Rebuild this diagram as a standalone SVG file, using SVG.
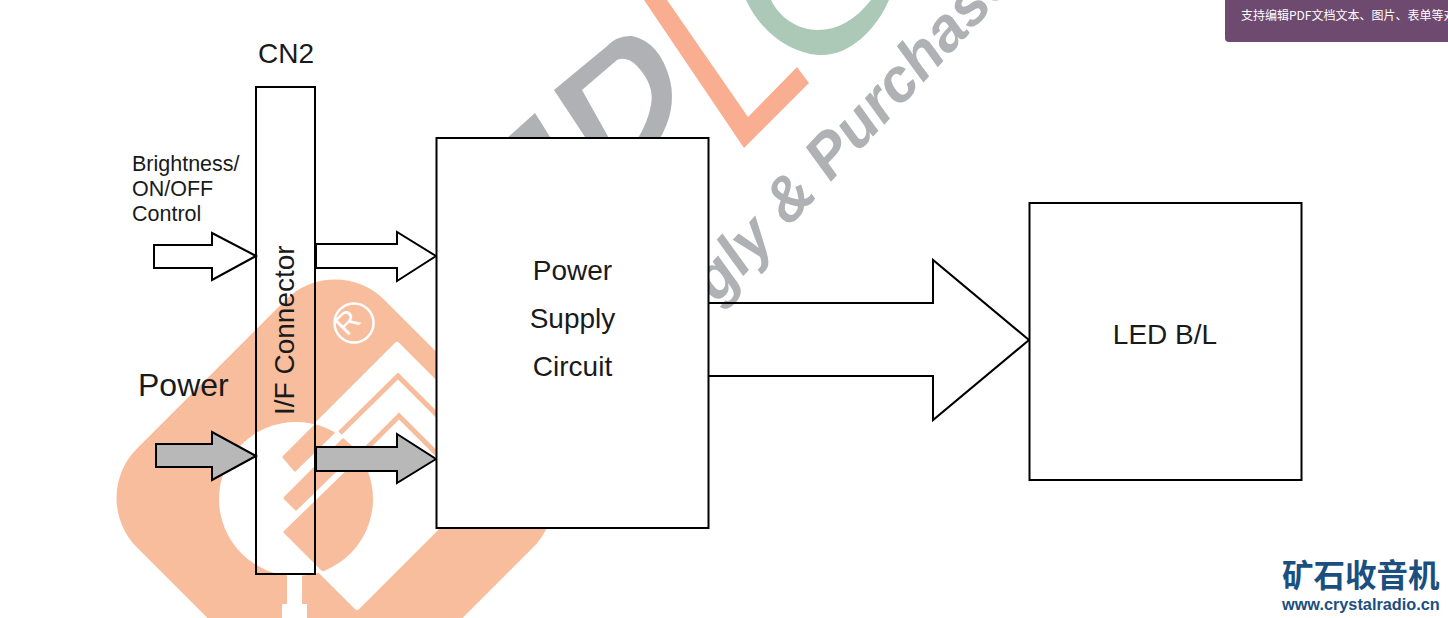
<svg xmlns="http://www.w3.org/2000/svg" width="1448" height="618" viewBox="0 0 1448 618">
<style>
text{font-family:"Liberation Sans",Arial,sans-serif;fill:#1a1a1a}
.t28{font-size:28px}
.t21{font-size:21.5px}
.box{stroke:#000;stroke-width:2}
.arrow{stroke:#000;stroke-width:2;stroke-linejoin:miter}
.white{fill:#fff}
.grey{fill:#b8b8b8}
.wo{fill:#f7bd9c}
</style>
<defs>
<clipPath id="disc"><circle cx="296" cy="499" r="77"/></clipPath>
</defs>
<rect width="1448" height="618" fill="#fff"/>
<g id="watermark">
<path fill="#b0b1b5" fill-rule="evenodd" d="M554,90 L606,47 Q617,35 632,36 Q660,42 670,80 Q677,110 659,140 L587,140 Z M582,90 L617,60 Q627,56 637,66 Q655,85 651,105 Q648,122 637,140 L610,140 Z"/>
<path fill="#b0b1b5" d="M505,140 L535,113 L552,140 Z"/>
<path fill="#f9ae92" d="M644,0 L744,148 L809,83 L797,67 L748,117 L667,0 Z"/>
<path fill="#abc9b6" d="M746,0 C762,35 795,55 822,55 C850,55 876,30 889,0 L871,0 C855,20 838,30 818,30 C798,30 780,18 771,0 Z"/>
<text transform="translate(717,304) rotate(-47)" style="font-size:61px;font-weight:bold;font-style:italic;fill:#b0b1b5">gly &amp; Purchase</text>
<rect class="wo" x="-175" y="-175" width="350" height="350" rx="70" transform="translate(335,498) rotate(45)"/>
<circle cx="296" cy="499" r="77" fill="#fff"/>
<path fill="#fff" stroke="#fff" stroke-width="6" stroke-linejoin="round" d="M397,345 L508,456 L357,607 L246,496 Z"/>
<path fill="none" stroke="#f7bd9c" stroke-width="5" d="M340,433 L398,376 L460,438"/>
<path fill="none" stroke="#f7bd9c" stroke-width="5" d="M367,448 L399,416 L450,467"/>
<g clip-path="url(#disc)" class="wo" stroke="#f7bd9c" stroke-width="3" stroke-linejoin="round">
<path d="M284,457 L295,470 L343,423 L330,411 Z"/>
<path d="M285,498 L296,509 L372,435 L360,423 Z"/>
<path d="M285,532 L345,592 L445,495 L385,435 Z"/>
</g>
<path fill="#fff" d="M287,574 H302 V604 H307 V618 H282 V604 H287 Z"/>
<circle cx="354" cy="323" r="19.500" fill="none" stroke="#fff" stroke-width="2.500"/>
<text transform="translate(347,337) rotate(-45)" style="font-size:30px;fill:#fff">R</text>
</g>
<g id="connectors">
<path class="arrow white" d="M154,245 H212 V233 L256,256 L212,280 V268 H154 Z"/>
<path class="arrow white" d="M316,244 H397 V232 L436,256 L397,281 V268 H316 Z"/>
<path class="arrow grey" d="M156,444 H212 V432 L256,456 L212,480 V467 H156 Z"/>
<path class="arrow grey" d="M316,447 H397 V434 L436,459 L397,483 V471 H316 Z"/>
<path class="arrow" fill="none" d="M709,303 H933 V260 L1029,340 L933,420 V376 H709"/>
</g>
<g id="cn2">
<rect class="box" x="256" y="87" width="59" height="487" fill="none"/>
<text class="t28" x="258" y="63">CN2</text>
<text class="t28" transform="translate(294,415) rotate(-90)">I/F Connector</text>
</g>
<g id="power-supply">
<rect class="box" x="436.500" y="138" width="272" height="390" fill="#fff"/>
<text class="t28" x="572.500" y="280" text-anchor="middle">Power</text>
<text class="t28" x="572.500" y="328" text-anchor="middle">Supply</text>
<text class="t28" x="572.500" y="376" text-anchor="middle">Circuit</text>
</g>
<g id="led">
<rect class="box" x="1029.500" y="203" width="272" height="277" fill="#fff"/>
<text class="t28" x="1165" y="344" text-anchor="middle">LED B/L</text>
</g>
<g id="input-labels">
<text class="t21" x="132" y="171">Brightness/</text>
<text class="t21" x="132" y="196">ON/OFF</text>
<text class="t21" x="132" y="221">Control</text>
<text x="138" y="396" style="font-size:32px">Power</text>
</g>
<g id="banner">
<rect x="1225" y="-6" width="240" height="48" rx="4" fill="#6f4a70"/>
<text x="1241" y="20" style="font-family:'Noto Sans CJK SC','Liberation Sans',sans-serif;font-size:12px;fill:#fff">支持编辑PDF文档文本、图片、表单等对</text>
</g>
<g id="logo">
<text x="1282" y="587" style="font-family:'Noto Sans CJK SC','Liberation Sans',sans-serif;font-size:31.500px;font-weight:bold;fill:#1b4f80">矿石收音机</text>
<text x="1282" y="610" style="font-size:16.300px;font-weight:bold;fill:#1b4f80">www.crystalradio.cn</text>
</g>
</svg>
